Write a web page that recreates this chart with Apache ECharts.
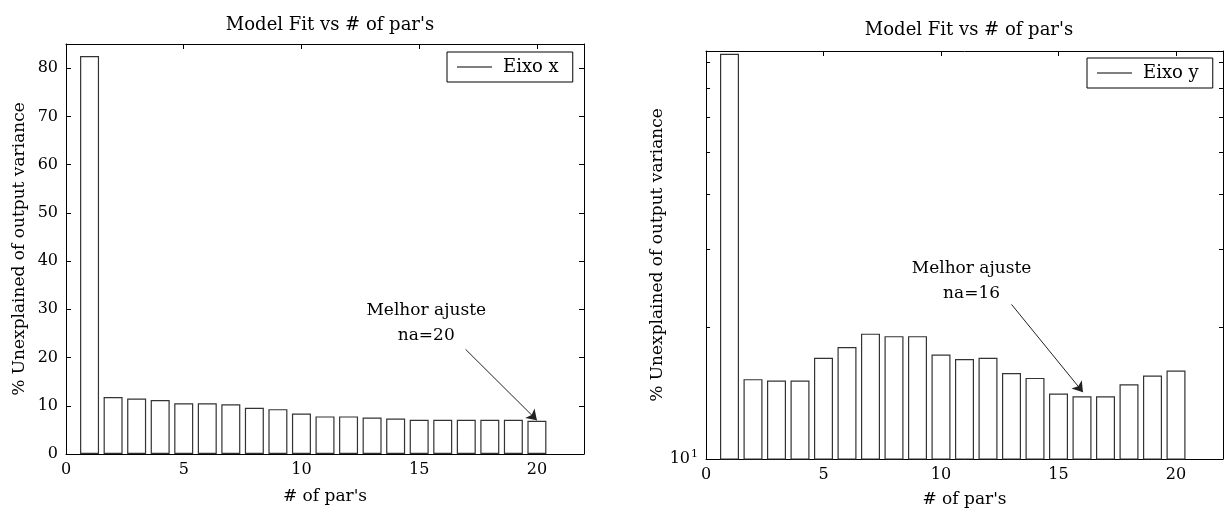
<!DOCTYPE html>
<html>
<head>
<meta charset="utf-8">
<script src="https://cdn.jsdelivr.net/npm/echarts@6/dist/echarts.min.js"></script>
<style>
  html, body { margin: 0; padding: 0; background: #fff; }
  #chart { width: 1226px; height: 513px; }
</style>
</head>
<body>
<div id="chart"></div>
<script>
// number of parameters (x) and % unexplained output variance for each axis
var params = [1, 2, 3, 4, 5, 6, 7, 8, 9, 10, 11, 12, 13, 14, 15, 16, 17, 18, 19, 20];
var fitEixoX = [82.5, 11.8, 11.5, 11.2, 10.5, 10.5, 10.3, 9.6, 9.3, 8.4, 7.8, 7.8, 7.55, 7.35, 7.1, 7.1, 7.1, 7.1, 7.1, 6.9];
var fitEixoY = [83.8, 15.2, 15.1, 15.1, 17.0, 18.0, 19.3, 19.05, 19.05, 17.3, 16.9, 17.0, 15.7, 15.3, 14.1, 13.9, 13.9, 14.8, 15.5, 15.9];

var xTicks = [0, 5, 10, 15, 20];
var linTicks = [0, 10, 20, 30, 40, 50, 60, 70, 80];
var logMinorTicks = [20, 30, 40, 50, 60, 70, 80];
var logLabels = [10];

var FONT = 'DejaVu Serif';
var INK = '#000';
var EDGE = '#333';

var chart = echarts.init(document.getElementById('chart'));

function pairs(ys) {
  return params.map(function (p, i) { return [p, ys[i]]; });
}

function axisLine() {
  return { show: true, onZero: false, lineStyle: { color: INK, width: 1 } };
}

function xAxes(grid) {
  var base = {
    gridIndex: grid, type: 'value', min: 0, max: 22,
    axisLine: axisLine(),
    axisTick: { show: true, inside: true, length: 5, customValues: xTicks, lineStyle: { color: INK } },
    splitLine: { show: false }
  };
  return [
    Object.assign({}, base, {
      position: 'bottom',
      name: "# of par's", nameLocation: 'middle', nameGap: grid === 0 ? 34 : 32,
      nameTextStyle: { fontFamily: FONT, fontSize: 17, color: INK },
      axisLabel: { customValues: xTicks, margin: 8, fontFamily: FONT, fontSize: 16, color: INK }
    }),
    Object.assign({}, base, { position: 'top', axisLabel: { show: false } })
  ];
}

function linYAxes(grid) {
  var base = {
    gridIndex: grid, type: 'value', min: 0, max: 85,
    axisLine: axisLine(),
    axisTick: { show: true, inside: true, length: 5, customValues: linTicks, lineStyle: { color: INK } },
    splitLine: { show: false }
  };
  return [
    Object.assign({}, base, {
      position: 'left',
      name: '% Unexplained of output variance', nameLocation: 'middle', nameGap: 38,
      nameTextStyle: { fontFamily: FONT, fontSize: 17, color: INK },
      axisLabel: { customValues: linTicks, margin: 8, fontFamily: FONT, fontSize: 16, color: INK }
    }),
    Object.assign({}, base, { position: 'right', axisLabel: { show: false } })
  ];
}

function logYAxes(grid) {
  var base = {
    gridIndex: grid, type: 'log', logBase: 10, min: 10, max: 85,
    axisLine: axisLine(),
    axisTick: { show: true, inside: true, length: 4, customValues: logMinorTicks, lineStyle: { color: INK } },
    splitLine: { show: false }
  };
  return [
    Object.assign({}, base, {
      position: 'left',
      name: '% Unexplained of output variance', nameLocation: 'middle', nameGap: 40,
      nameTextStyle: { fontFamily: FONT, fontSize: 17, color: INK },
      axisLabel: {
        customValues: logLabels, margin: 8, color: INK,
        formatter: function (v) {
          return '{b|10}{s|' + Math.round(Math.log10(v)) + '}';
        },
        rich: {
          b: { fontFamily: FONT, fontSize: 16, color: INK },
          s: { fontFamily: FONT, fontSize: 11, color: INK, padding: [0, 0, 10, 1] }
        }
      }
    }),
    Object.assign({}, base, { position: 'right', axisLabel: { show: false } })
  ];
}

function barSeries(x, y, data) {
  return {
    type: 'bar', xAxisIndex: x, yAxisIndex: y, data: data,
    barWidth: 19, clip: true,
    itemStyle: { color: '#fff', borderColor: EDGE, borderWidth: 1.2 },
    emphasis: { disabled: true }
  };
}

function note(text, at) {
  return {
    symbol: 'circle', symbolSize: 0, silent: true,
    itemStyle: { color: 'transparent' },
    label: { show: true, position: 'inside', formatter: text, fontFamily: FONT, fontSize: 17, lineHeight: 25, color: INK },
    data: [{ coord: at }]
  };
}

function arrow(from, to) {
  return {
    silent: true, symbol: ['none', 'arrow'], symbolSize: 10,
    lineStyle: { color: '#222', width: 1, type: 'solid' },
    label: { show: false },
    data: [[{ coord: from }, { coord: to }]]
  };
}

var leftBars = barSeries(0, 0, pairs(fitEixoX));
leftBars.markPoint = note('Melhor ajuste\nna=20', [15.3, 27.2]);
leftBars.markLine = arrow([16.97, 21.7], [20, 7.0]);

var rightBars = barSeries(2, 2, pairs(fitEixoY));
rightBars.markPoint = note('Melhor ajuste\nna=16', [11.3, 25.4]);
rightBars.markLine = arrow([13.0, 22.5], [16.04, 14.2]);

function legendBox(name, left, top) {
  return {
    data: [{ name: name, icon: 'rect' }],
    left: left, top: top, orient: 'horizontal',
    itemWidth: 35, itemHeight: 1,
    padding: [6, 14, 6, 10],
    borderColor: INK, borderWidth: 1, backgroundColor: '#fff',
    selectedMode: false,
    textStyle: { fontFamily: FONT, fontSize: 18, color: INK, padding: [0, 0, 0, 6] }
  };
}

var option = {
  animation: false,
  backgroundColor: '#fff',
  title: [
    { text: "Model Fit vs # of par's", left: 325, top: 11, textAlign: 'center',
      textStyle: { fontFamily: FONT, fontSize: 18, fontWeight: 'normal', color: INK } },
    { text: "Model Fit vs # of par's", left: 964, top: 16, textAlign: 'center',
      textStyle: { fontFamily: FONT, fontSize: 18, fontWeight: 'normal', color: INK } }
  ],
  legend: [legendBox('Eixo x', 447, 52), legendBox('Eixo y', 1087, 58)],
  grid: [
    { left: 66, top: 44, width: 518, height: 410 },
    { left: 706, top: 51, width: 517, height: 410 }
  ],
  xAxis: xAxes(0).concat(xAxes(1)),
  yAxis: linYAxes(0).concat(logYAxes(1)),
  series: [
    leftBars,
    rightBars,
    { name: 'Eixo x', type: 'line', xAxisIndex: 0, yAxisIndex: 0, data: [], symbol: 'none',
      itemStyle: { color: INK }, lineStyle: { color: INK, width: 1 } },
    { name: 'Eixo y', type: 'line', xAxisIndex: 2, yAxisIndex: 2, data: [], symbol: 'none',
      itemStyle: { color: INK }, lineStyle: { color: INK, width: 1 } }
  ]
};

chart.setOption(option);
</script>
</body>
</html>
